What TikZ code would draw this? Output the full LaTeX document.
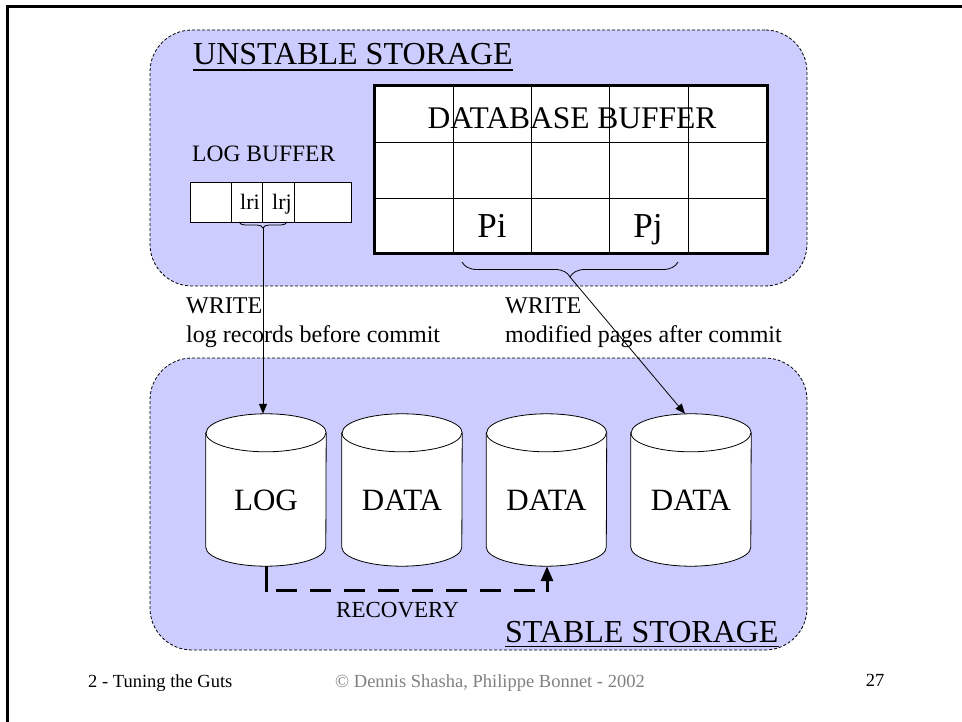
\documentclass[tikz,border=0pt]{standalone}
\usepackage{fontspec}
\setmainfont{Liberation Serif}
\usetikzlibrary{arrows.meta,decorations.pathreplacing}
\definecolor{lav}{RGB}{204,204,255}
\definecolor{footgray}{RGB}{128,128,128}
\newcommand\fsz[1]{\fontsize{#1}{#1}\selectfont}
\newcommand\dbcyl[1]{%
  \path[draw,fill=white,line width=0.8pt] ([yshift=-19pt]#1.north west) -- ([yshift=19pt]#1.south west)
    arc[start angle=180,end angle=360,x radius=60pt,y radius=19pt]
    -- ([yshift=-19pt]#1.north east)
    arc[start angle=0,end angle=180,x radius=60pt,y radius=19pt] -- cycle;
  \draw[line width=0.8pt] ([yshift=-19pt]#1.north west)
    arc[start angle=180,end angle=360,x radius=60pt,y radius=19pt];
}
\begin{document}
\begin{tikzpicture}[x=1pt,y=-1pt,
  storage/.style={draw, fill=lav, line width=0.8pt, dash pattern=on 3pt off 2pt,
    rounded corners=42pt, inner sep=0},
  txt/.style={inner sep=0, anchor=base west},
  ctxt/.style={inner sep=0, anchor=base},
  uline/.style={line width=1.8pt},
  thin/.style={line width=0.8pt},
  cylbox/.style={minimum width=120pt, minimum height=152pt, inner sep=0},
  arr/.style={line width=0.8pt, -{Triangle[length=10pt,width=8pt]}},
  rec/.style={line width=3pt}
]
\useasboundingbox (0,0) rectangle (962,722);
\fill[white] (0,0) rectangle (962,722);
\draw[line width=3pt] (7,722) -- (7,7) -- (962,7);

% storage areas
\node[storage, minimum width=657pt, minimum height=256pt] (unstable) at (478.5,158) {};
\node[storage, minimum width=657pt, minimum height=292pt] (stable) at (478.5,504) {};

\node[txt, font=\fsz{32}] (ut) at (193,65) {UNSTABLE STORAGE};
\draw[uline] ([yshift=-5pt]ut.base west) -- ([yshift=-5pt]ut.base east);
\node[txt, font=\fsz{32}] (st) at (505,642) {STABLE STORAGE};
\draw[uline] ([yshift=-4.5pt]st.base west) -- ([yshift=-4.5pt]st.base east);

% log buffer
\node[txt, font=\fsz{23.5}] (lbl) at (192,162) {LOG BUFFER};
\node[draw, thin, fill=white, minimum width=161pt, minimum height=40pt, inner sep=0] (logbuf) at (270.5,202) {};
\draw[thin] (231,182) -- (231,222) (262,182) -- (262,222) (294,182) -- (294,222);
\node[ctxt, font=\fsz{22}] (lri) at (250,210) {lri};
\node[ctxt, font=\fsz{22}] (lrj) at (282,210) {lrj};
\draw[thin, decorate, decoration={brace, mirror, amplitude=6pt}] (239,222) -- (287,222);
\coordinate (lbtip) at (263,228);

% database buffer
\node[draw, line width=3pt, fill=white, minimum width=393pt, minimum height=168pt, inner sep=0] (dbbuf) at (570.5,170) {};
\draw[thin] (453,86) -- (453,254) (531,86) -- (531,254) (609,86) -- (609,254) (688,86) -- (688,254)
  (374,142) -- (767,142) (374,198) -- (767,198);
\draw[line width=3pt] (374,86) rectangle (767,254);
\node[ctxt, font=\fsz{31.5}] (dbt) at (572,129) {DATABASE BUFFER};
\node[ctxt, font=\fsz{35}] (pi) at (492,238) {Pi};
\node[ctxt, font=\fsz{35}] (pj) at (648,238) {Pj};
\draw[thin, decorate, decoration={brace, mirror, amplitude=15pt}] (462,262) -- (678,262);
\coordinate (dbtip) at (570,277);

% write labels
\node[txt, font=\fsz{24}] (w1) at (186,313) {WRITE};
\node[txt, font=\fsz{24}] (w1b) at (186,342) {log records before commit};
\node[txt, font=\fsz{24}] (w2) at (505,313) {WRITE};
\node[txt, font=\fsz{24}] (w2b) at (505,342) {modified pages after commit};

% cylinders
\node[cylbox] (log) at (266,490) {};
\node[cylbox] (d2) at (402,490) {};
\node[cylbox] (d3) at (546.5,490) {};
\node[cylbox] (d4) at (691,490) {};
\dbcyl{log}\dbcyl{d2}\dbcyl{d3}\dbcyl{d4}
\node[ctxt, font=\fsz{31}] (logt) at ([yshift=-20pt]log.center) {LOG};
\node[ctxt, font=\fsz{31}] (d2t) at ([yshift=-20pt]d2.center) {DATA};
\node[ctxt, font=\fsz{31}] (d3t) at ([yshift=-20pt]d3.center) {DATA};
\node[ctxt, font=\fsz{31}] (d4t) at ([yshift=-20pt]d4.center) {DATA};

% write arrows
\draw[arr] (lbtip) -- (lbtip |- log.north);
\draw[arr] (dbtip) -- ([xshift=-6pt]d4.north);

% recovery
\coordinate (rA) at (266,590);
\coordinate (rB) at (547,590);
\draw[rec] (log.south) -- ([yshift=-1.5pt]rA);
\draw[rec, dash pattern=on 21pt off 13pt] ([xshift=10pt]rA) -- ([xshift=-12pt]rB);
\draw[rec, -{Triangle[length=15pt,width=12pt]}] ([yshift=-1.5pt]rB) -- ([xshift=0.5pt]d3.south);
\node[txt, font=\fsz{23}] (recl) at (336,617) {RECOVERY};

% footer
\node[txt, font=\fsz{18.5}] (f1) at (88,687) {2 - Tuning the Guts};
\node[ctxt, font=\fsz{18.5}, text=footgray] (f2) at (490,687) {© Dennis Shasha, Philippe Bonnet - 2002};
\node[ctxt, font=\fsz{18.5}] (f3) at (875,686) {27};
\end{tikzpicture}
\end{document}
